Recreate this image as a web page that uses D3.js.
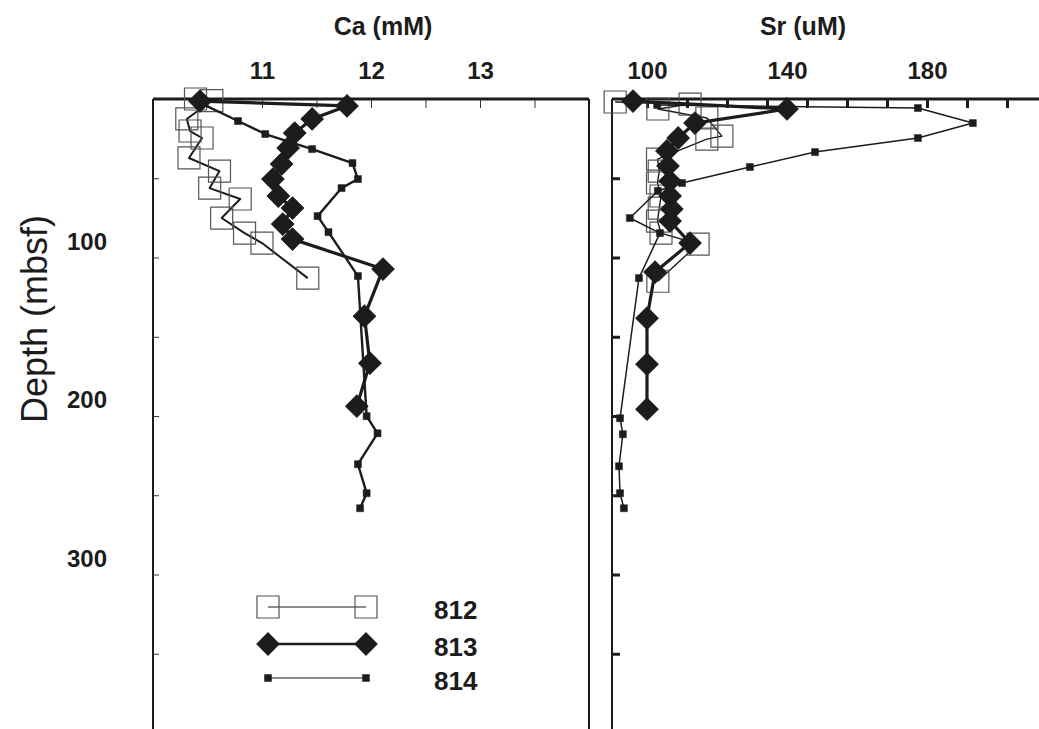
<!DOCTYPE html>
<html lang="en">
<head>
<meta charset="UTF-8">
<title>Ca and Sr pore water profiles</title>
<script src="https://cdn.jsdelivr.net/npm/d3@7"></script>
<style>
    body { margin: 0; background: #fff; }
    text { font-family: "Liberation Sans", Arial, sans-serif; fill: #1c1c1c; }
    .lbl { font-weight: bold; font-size: 24px; }
    .domain { display: none; }
</style>
</head>
<body>
<svg id="chart" width="1039" height="729"></svg>
<script>
// depth in mbsf, Ca in mM, Sr in uM
const sites = ["812", "813", "814"]

const ca812Depth = [0, 1, 12.6, 20.2, 24.6, 37.2, 45.5, 56.2, 63.1, 75.1, 84.6, 90.9, 113]
const ca812 = [10.39, 10.54, 10.31, 10.34, 10.45, 10.33, 10.61, 10.52, 10.80, 10.63, 10.84, 11.00, 11.42]

const ca813Depth = [1.3, 4.4, 12.6, 21.5, 30.9, 41.0, 50.5, 61.2, 68.8, 78.9, 88.4, 107.3, 137, 166.7, 193.8]
const ca813 = [10.43, 11.78, 11.46, 11.30, 11.24, 11.18, 11.10, 11.15, 11.28, 11.19, 11.28, 12.11, 11.94, 11.99, 11.87]

const ca814Depth = [1.3, 13.9, 22.1, 31.6, 40.4, 50.5, 56.2, 73.9, 84.0, 111.7, 200.1, 210.9, 230.4, 248.7, 258.2]
const ca814 = [10.40, 10.78, 11.03, 11.46, 11.83, 11.88, 11.73, 11.51, 11.61, 11.88, 11.96, 12.06, 11.88, 11.96, 11.90]

const sr812Depth = [1.9, 3.2, 6.3, 12, 23.4, 25.3, 37.9, 45.5, 53, 61.2, 68.8, 77, 84.6, 91.5, 115]
const sr812 = [90.9, 112.3, 103.1, 117.1, 121.4, 117.1, 103, 103.5, 103, 104, 103.5, 103, 104, 114.6, 103.1]

const sr813Depth = [1.3, 6.3, 15.2, 24.6, 32.8, 42.3, 51.8, 61.2, 69.4, 77.0, 90.9, 109.2, 138.3, 167.3, 195.7]
const sr813 = [96.0, 140.0, 113.7, 108.9, 105.7, 106.0, 106.6, 106.6, 107.1, 106.6, 112.3, 102.3, 100, 100, 100]

const sr814Depth = [3.8, 5.7, 15.2, 24.6, 33.5, 42.9, 53.0, 58, 75.1, 84.6, 113, 201.4, 211.5, 231.7, 248.7, 258.2]
const sr814 = [102.9, 177.4, 193.1, 177.4, 148.0, 129.4, 110.0, 103.1, 95.1, 103.7, 97.7, 92.3, 93.1, 92.0, 92.3, 93.4]

const caTicks = [11, 12, 13]
const srTicks = [100, 140, 180]
const depthTicks = [100, 200, 300]

let svg = d3.select("#chart")

let y = d3.scaleLinear().domain([0, 400]).range([99, 733])
let caX = d3.scaleLinear().domain([10, 14]).range([153, 589])
let srX = d3.scaleLinear().domain([90, 215]).range([612, 1049.5])

const zip = (ds, vs) => ds.map((d, i) => ({ d: d, v: vs[i] }))

// marker styles per site
const style = {
    "812": { shape: d3.symbolSquare, size: 484, rot: 0, fill: "none", stroke: "#555", sw: 1.2 },
    "813": { shape: d3.symbolSquare, size: 250, rot: 45, fill: "#1c1c1c", stroke: "#1c1c1c", sw: 1 },
    "814": { shape: d3.symbolSquare, size: 49, rot: 0, fill: "#1c1c1c", stroke: "#1c1c1c", sw: 0.5 }
}

function drawFrame(x) {
    let [x0, x1] = x.range()
    let g = svg.append("g")
    g.append("line").attr("x1", x0).attr("x2", x0).attr("y1", y(0)).attr("y2", 760)
        .attr("stroke", "#1c1c1c").attr("stroke-width", 2)
    g.append("line").attr("x1", x1).attr("x2", x1).attr("y1", y(0)).attr("y2", 760)
        .attr("stroke", "#1c1c1c").attr("stroke-width", 2)
    g.append("line").attr("x1", x0).attr("x2", x1).attr("y1", y(0)).attr("y2", y(0))
        .attr("stroke", "#1c1c1c").attr("stroke-width", 3)
}

function drawSeries(x, data, site, lineW) {
    let s = style[site]
    let line = d3.line().x(p => x(p.v)).y(p => y(p.d))
    svg.append("path").datum(data)
        .attr("d", line)
        .attr("fill", "none")
        .attr("stroke", "#1c1c1c")
        .attr("stroke-width", lineW)
        .attr("stroke-linejoin", "round")
    svg.append("g").selectAll("path").data(data).join("path")
        .attr("d", d3.symbol(s.shape, s.size))
        .attr("transform", p => "translate(" + x(p.v) + "," + y(p.d) + ") rotate(" + s.rot + ")")
        .attr("fill", s.fill)
        .attr("stroke", s.stroke)
        .attr("stroke-width", s.sw)
}

drawFrame(caX)
drawFrame(srX)

// inner ticks, left panel (thin)
svg.append("g").attr("transform", "translate(153,0)")
    .call(d3.axisRight(y).tickValues(d3.range(50, 400, 50)).tickSize(6).tickFormat(""))
    .selectAll("line").attr("stroke", "#333").attr("stroke-width", 1)
svg.append("g").attr("transform", "translate(0,99)")
    .call(d3.axisBottom(caX).tickValues(d3.range(10.5, 14, 0.5)).tickSize(9).tickFormat(""))
    .selectAll("line").attr("stroke", "#333").attr("stroke-width", 1)

// inner ticks, right panel (heavy), spacing as drawn in the original
svg.append("g").attr("transform", "translate(612,0)")
    .call(d3.axisRight(y).tickValues(d3.range(50, 400, 50)).tickSize(8).tickFormat(""))
    .selectAll("line").attr("stroke", "#1c1c1c").attr("stroke-width", 3)
svg.append("g").attr("transform", "translate(0,99)")
    .call(d3.axisBottom(srX).tickValues(d3.range(100, 215, 80 / 7)).tickSize(9).tickFormat(""))
    .selectAll("line").attr("stroke", "#1c1c1c").attr("stroke-width", 3)

// tick labels
svg.append("g").attr("transform", "translate(0,99)")
    .call(d3.axisTop(caX).tickValues(caTicks).tickFormat(d3.format("d")).tickSize(0).tickPadding(20))
    .selectAll("text").attr("class", "lbl").attr("font-size", null).attr("font-family", null)
svg.append("g").attr("transform", "translate(0,99)")
    .call(d3.axisTop(srX).tickValues(srTicks).tickFormat(d3.format("d")).tickSize(0).tickPadding(20))
    .selectAll("text").attr("class", "lbl").attr("font-size", null).attr("font-family", null)
svg.append("g").attr("transform", "translate(153,0)")
    .call(d3.axisLeft(y).tickValues(depthTicks).tickFormat(d3.format("d")).tickSize(0).tickPadding(46))
    .selectAll("text").attr("class", "lbl").attr("font-size", null).attr("font-family", null)
    .attr("dy", "-0.35em")

// titles
svg.append("text").attr("x", 383).attr("y", 35).attr("text-anchor", "middle")
    .attr("font-weight", "bold").attr("font-size", 25).text("Ca (mM)")
svg.append("text").attr("x", 803).attr("y", 35).attr("text-anchor", "middle")
    .attr("font-weight", "bold").attr("font-size", 25).text("Sr (uM)")
svg.append("text").attr("transform", "translate(47,319) rotate(-90)")
    .attr("text-anchor", "middle").attr("font-size", 36).text("Depth (mbsf)")

// Ca panel
drawSeries(caX, zip(ca812Depth, ca812), "812", 2)
drawSeries(caX, zip(ca814Depth, ca814), "814", 2.4)
drawSeries(caX, zip(ca813Depth, ca813), "813", 3.2)

// Sr panel
drawSeries(srX, zip(sr812Depth, sr812), "812", 1.4)
drawSeries(srX, zip(sr814Depth, sr814), "814", 1.5)
drawSeries(srX, zip(sr813Depth, sr813), "813", 3.2)

// legend
let legY = [607, 644, 678]
let leg = svg.append("g")
sites.forEach((site, i) => {
    let s = style[site]
    leg.append("line").attr("x1", 268).attr("x2", 366).attr("y1", legY[i]).attr("y2", legY[i])
        .attr("stroke", "#1c1c1c").attr("stroke-width", site == "813" ? 2.5 : 1.2)
    leg.selectAll(null).data([268, 366]).join("path")
        .attr("d", d3.symbol(s.shape, s.size))
        .attr("transform", lx => "translate(" + lx + "," + legY[i] + ") rotate(" + s.rot + ")")
        .attr("fill", s.fill).attr("stroke", s.stroke).attr("stroke-width", s.sw)
    leg.append("text").attr("x", 434).attr("y", legY[i] + 12)
        .attr("font-weight", "bold").attr("font-size", 26).text(site)
})
</script>
</body>
</html>
